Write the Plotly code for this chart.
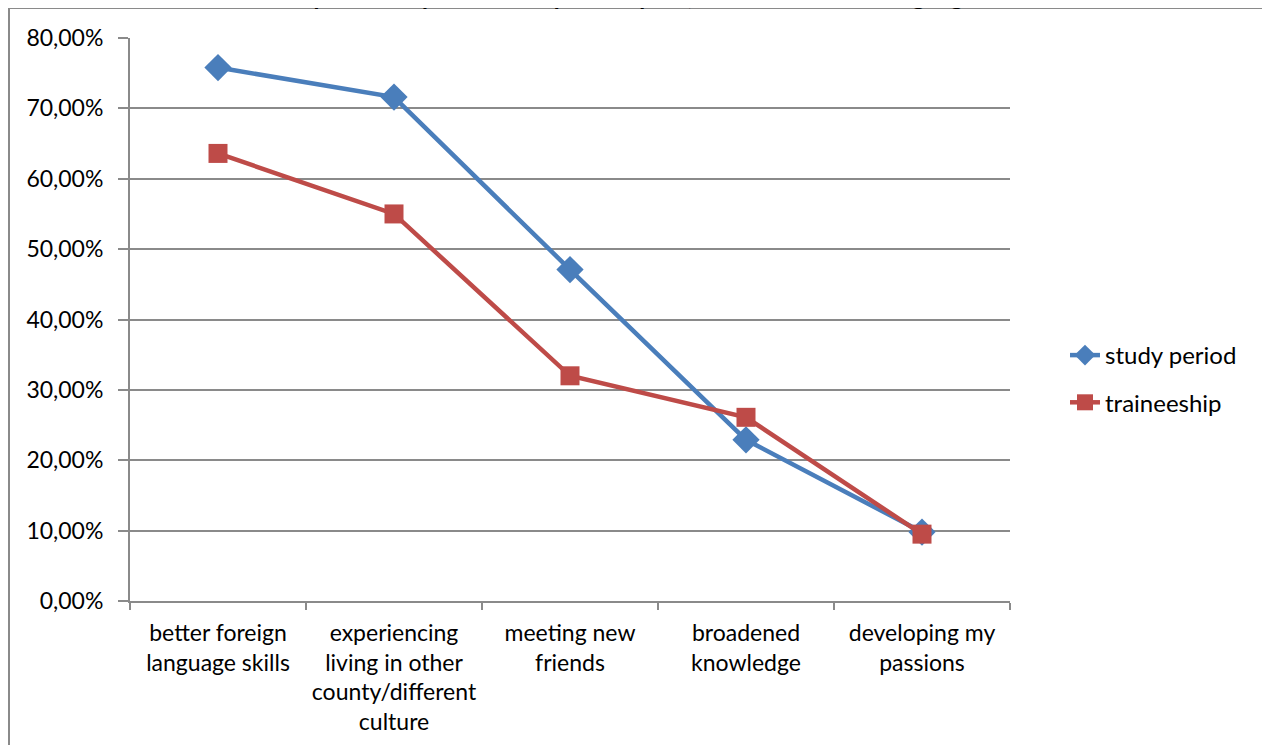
import plotly.graph_objects as go

# data
categories = [
    "better foreign<br>language skills",
    "experiencing<br>living in other<br>county/different<br>culture",
    "meeting new<br>friends",
    "broadened<br>knowledge",
    "developing my<br>passions",
]
study_period = [0.758, 0.716, 0.471, 0.229, 0.098]
traineeship = [0.636, 0.550, 0.320, 0.261, 0.095]
y_ticks = [0, 0.1, 0.2, 0.3, 0.4, 0.5, 0.6, 0.7, 0.8]

title_text = "Most important aspects of the period spent, intercultural and language skills"

font_family = "Lato, 'Open Sans', sans-serif"
grid_color = "#8a8a8a"

fig = go.Figure()

fig.add_trace(go.Scatter(
    x=categories, y=study_period, name="study period",
    mode="lines+markers",
    line=dict(color="#4a7ebb", width=4.5),
    marker=dict(symbol="diamond", size=21, color="#4a7ebb"),
    legendgroup="a",
))
fig.add_trace(go.Scatter(
    x=categories, y=traineeship, name="traineeship",
    mode="lines+markers",
    line=dict(color="#be4b48", width=4.5),
    marker=dict(symbol="square", size=19, color="#be4b48"),
    legendgroup="b",
))

# outer chart-area border (runs off the canvas to the right and bottom)
fig.add_shape(
    type="rect", xref="paper", yref="paper",
    x0=(9 - 130) / 880, x1=2.5, y0=-1.0, y1=(601 - 8) / 563,
    line=dict(color="#8a8a8a", width=2), fillcolor="rgba(0,0,0,0)",
    layer="below",
)

# title sits mostly above the visible page
fig.add_annotation(
    text="<b>" + title_text + "</b>",
    xref="paper", yref="paper", x=(630 - 130) / 880, y=(601 + 4) / 563,
    xanchor="center", yanchor="middle", showarrow=False,
    font=dict(size=24, color="black", family=font_family),
)

# the page has an 8px body margin, so margins are trimmed by 8
fig.update_layout(
    width=1270, height=745,
    margin=dict(l=122, r=268, t=30, b=152),
    paper_bgcolor="white", plot_bgcolor="white",
    separators=", ",
    font=dict(family=font_family, size=23, color="black"),
    showlegend=True,
    legend=dict(
        x=(1065 - 130) / 880, y=(601 - 333) / 563,
        xanchor="left", yanchor="top",
        font=dict(size=24, color="black"),
        tracegroupgap=13, traceorder="grouped",
        bgcolor="rgba(0,0,0,0)",
    ),
)

fig.update_xaxes(
    type="category", range=[-0.5, 4.5], showgrid=False,
    showline=True, linecolor=grid_color, linewidth=2,
    ticks="outside", ticklen=7, tickcolor=grid_color, tickwidth=2,
    tickson="boundaries", ticklabelstandoff=10,
    tickfont=dict(size=23),
)
fig.update_yaxes(
    range=[0, 0.8], tickvals=y_ticks, tickformat=".2%",
    showgrid=True, gridcolor=grid_color, gridwidth=2,
    showline=True, linecolor=grid_color, linewidth=2,
    ticks="outside", ticklen=10, tickcolor=grid_color, tickwidth=2,
    zeroline=False, ticklabelstandoff=10,
    tickfont=dict(size=23),
)

fig.write_html("out.html")
